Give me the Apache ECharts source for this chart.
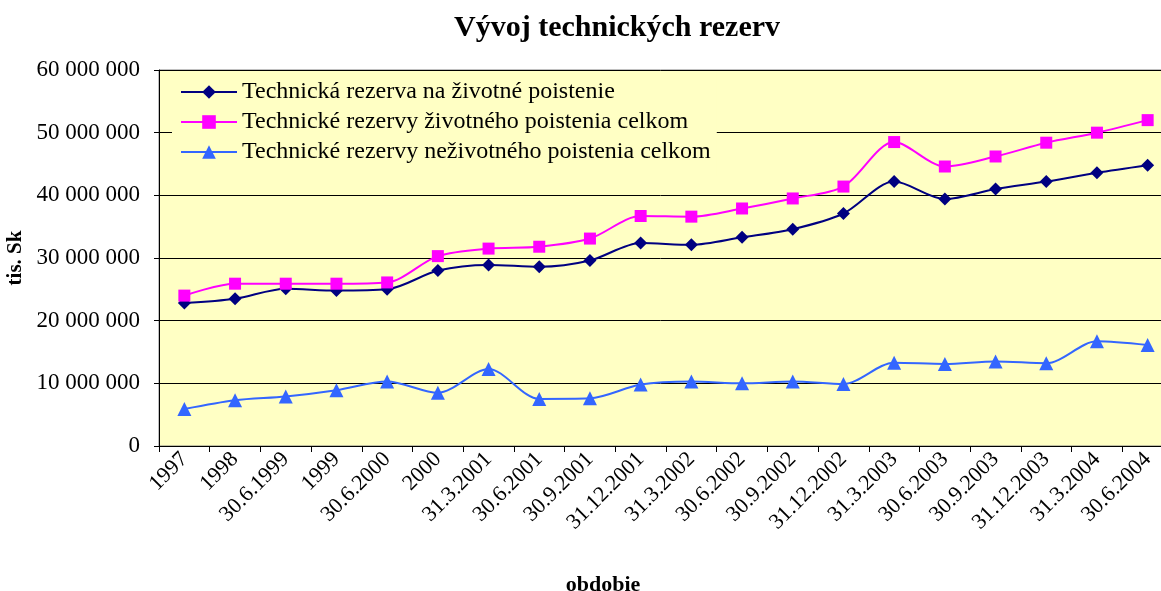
<!DOCTYPE html>
<html>
<head>
<meta charset="utf-8">
<title>Vývoj technických rezerv</title>
<script src="https://cdn.jsdelivr.net/npm/echarts@6/dist/echarts.min.js"></script>
<style>
  html, body { margin: 0; padding: 0; background: #fff; }
  #chart { width: 1161px; height: 591px; }
</style>
</head>
<body>
<div id="chart"></div>
<script>
// obdobia (os x)
const categories = [
  '1997', '1998', '30.6.1999', '1999', '30.6.2000', '2000', '31.3.2001', '30.6.2001',
  '30.9.2001', '31.12.2001', '31.3.2002', '30.6.2002', '30.9.2002', '31.12.2002',
  '31.3.2003', '30.6.2003', '30.9.2003', '31.12.2003', '31.3.2004', '30.6.2004'
]

// tis. Sk
const zivotnePoistenie = [
  22800000, 23500000, 25100000, 24800000, 25000000, 28000000, 28900000, 28600000,
  29600000, 32400000, 32100000, 33300000, 34600000, 37100000, 42200000, 39400000,
  41000000, 42200000, 43600000, 44800000
]
const zivotneCelkom = [
  24000000, 25900000, 25900000, 25900000, 26100000, 30300000, 31500000, 31800000,
  33100000, 36700000, 36600000, 37900000, 39500000, 41400000, 48500000, 44600000,
  46200000, 48400000, 50000000, 52000000
]
const nezivotneCelkom = [
  5900000, 7300000, 7900000, 8900000, 10300000, 8500000, 12300000, 7500000,
  7600000, 9800000, 10300000, 10000000, 10300000, 9900000, 13300000, 13100000,
  13500000, 13200000, 16700000, 16100000
]

const seriesNames = [
  'Technická rezerva na životné poistenie',
  'Technické rezervy životného poistenia celkom',
  'Technické rezervy neživotného poistenia celkom'
]

const font = '"Liberation Serif", "Times New Roman", serif'
const plotColor = '#FFFFC4'

const chart = echarts.init(document.getElementById('chart'))

const options = {
  animation: false,
  textStyle: { fontFamily: font, color: '#000' },
  title: {
    text: 'Vývoj technických rezerv',
    left: 449,
    top: 8,
    textStyle: { fontFamily: font, fontSize: 30, fontWeight: 'bold', color: '#000' }
  },
  legend: {
    orient: 'vertical',
    left: 172,
    top: 72,
    padding: [8, 6, 12, 8],
    itemWidth: 56,
    itemHeight: 17,
    itemGap: 6,
    backgroundColor: plotColor,
    textStyle: { fontFamily: font, fontSize: 24, color: '#000', lineHeight: 24 },
    data: seriesNames
  },
  grid: {
    show: true,
    left: 159,
    width: 1014, // plocha grafu pokračuje kúsok za pravý okraj
    top: 70,
    bottom: 145,
    outerBoundsMode: 'none',
    containLabel: false,
    backgroundColor: plotColor,
    borderColor: '#808080',
    borderWidth: 1
  },
  xAxis: {
    type: 'category',
    boundaryGap: true,
    data: categories,
    name: 'obdobie',
    nameLocation: 'middle',
    nameGap: 128,
    nameTextStyle: { fontFamily: font, fontSize: 22, fontWeight: 'bold', color: '#000', padding: [0, 126, 0, 0] },
    axisLine: { lineStyle: { color: '#000', width: 1 } },
    axisTick: { show: true, interval: 0, length: 6, lineStyle: { color: '#000' } },
    axisLabel: { interval: 0, rotate: 45, margin: 10, fontSize: 22, color: '#000', fontFamily: font },
    splitLine: { show: false }
  },
  yAxis: {
    type: 'value',
    min: 0,
    max: 60000000,
    interval: 10000000,
    name: 'tis. Sk',
    nameLocation: 'middle',
    nameGap: 128,
    nameTextStyle: { fontFamily: font, fontSize: 21, fontWeight: 'bold', color: '#000' },
    axisLine: { show: true, lineStyle: { color: '#000', width: 1 } },
    axisTick: { show: true, length: 5, lineStyle: { color: '#000' } },
    axisLabel: {
      margin: 19,
      fontSize: 23,
      color: '#000',
      fontFamily: font,
      formatter: (v) => String(v).replace(/\B(?=(\d{3})+(?!\d))/g, ' ')
    },
    splitLine: { show: true, lineStyle: { color: '#000', width: 1 } }
  },
  series: [
    {
      name: seriesNames[0],
      type: 'line',
      data: zivotnePoistenie,
      smooth: 0.3,
      symbol: 'diamond',
      symbolSize: 13,
      color: '#000080',
      lineStyle: { width: 2, color: '#000080' },
      z: 3
    },
    {
      name: seriesNames[1],
      type: 'line',
      data: zivotneCelkom,
      smooth: 0.3,
      symbol: 'rect',
      symbolSize: 12,
      color: '#FF00FF',
      lineStyle: { width: 2, color: '#FF00FF' },
      z: 3
    },
    {
      name: seriesNames[2],
      type: 'line',
      data: nezivotneCelkom,
      smooth: 0.3,
      symbol: 'triangle',
      symbolSize: 14,
      color: '#3366FF',
      lineStyle: { width: 2, color: '#3366FF' },
      z: 3
    }
  ]
}

chart.setOption(options)
</script>
</body>
</html>
